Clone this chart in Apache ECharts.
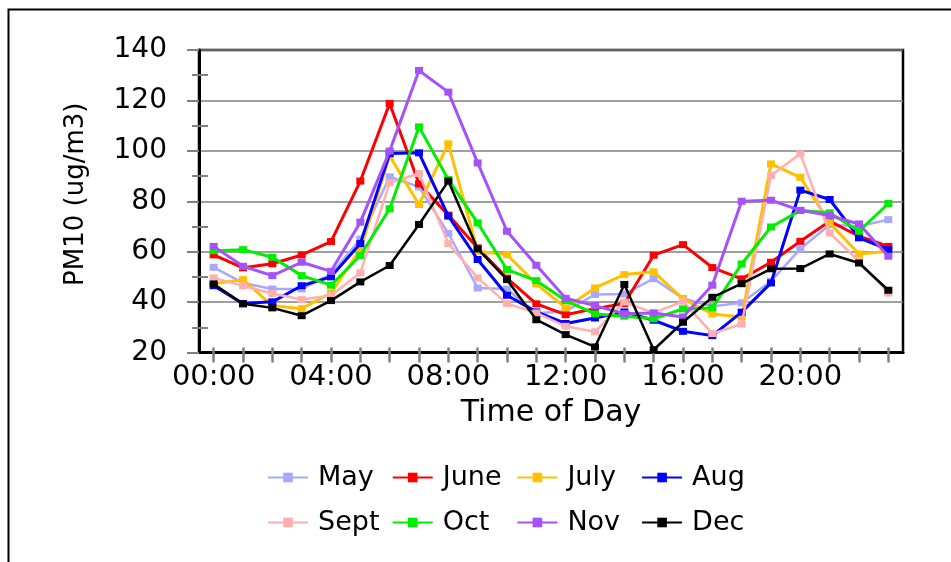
<!DOCTYPE html>
<html>
<head>
<meta charset="utf-8">
<script src="https://cdn.jsdelivr.net/npm/echarts@6/dist/echarts.min.js"></script>
<style>html,body{margin:0;padding:0;background:#fff}#c{width:951px;height:562px}</style>
</head>
<body>
<div id="c"></div>
<script>
var hours = ["00:00","01:00","02:00","03:00","04:00","05:00","06:00","07:00","08:00","09:00","10:00","11:00",
             "12:00","13:00","14:00","15:00","16:00","17:00","18:00","19:00","20:00","21:00","22:00","23:00"];
var yTicks = [20, 40, 60, 80, 100, 120, 140];
var months = ["May","June","July","Aug","Sept","Oct","Nov","Dec"];
var may  = [53.8,47.6,45.2,45.2,51,65,89.7,85.7,67.2,45.6,45.2,35.6,36.4,43,43.2,49.3,41.4,38.3,39.7,48.3,61.1,70.7,70.1,72.7];
var june = [58.7,53.6,55.2,58.7,64,88,118.8,86.9,74.5,61.5,49.5,39.3,35.0,37.4,39.4,58.6,62.8,53.7,49.2,55.8,64.1,72.1,66.1,62.1];
var july = [47.3,48.9,38.6,37.4,43.6,60.8,97.9,78.7,102.8,60.2,58.8,47.2,37.7,45.6,50.9,52,41.3,35.3,34.1,94.8,89.5,71.4,59.1,60.2];
var aug  = [46.5,39.4,40.1,46.5,50,63.2,98.9,99.2,74.1,56.9,42.7,36.1,31.5,33.7,36.1,32.8,28.4,26.7,36,47.6,84.4,80.7,65.5,60.8];
var sept = [49.6,46.5,43.4,41,42.6,51.6,87.3,91,63.2,49.6,39.4,35.7,30.4,28.2,40,35.7,40.3,27.5,31.3,90.2,98.8,67.4,56.2,43.6];
var oct  = [60.4,60.8,57.8,50.5,46.7,58.5,77,109.5,88.6,71.4,52.9,48.5,40.6,35.3,34.4,33.4,37.3,37.7,55.1,69.8,76.3,75.4,68.1,79.1];
var nov  = [62.1,54.2,50.5,55.8,52.2,71.7,99.9,131.9,123.3,95.2,68.1,54.6,41.5,38.6,35.4,35.7,34.1,46.7,80,80.4,76.4,74.3,71,58.2];
var dec  = [47.2,39.3,37.7,34.6,40.6,48,54.5,70.8,88,61.1,48.9,33.0,27.1,22.2,47,21.1,32,41.9,47.3,53.2,53.3,59.1,55.5,44.7];
var colors = ["#A8A8FF","#FF0000","#FFC000","#0000FF","#FFAFAF","#00EE00","#A452FA","#000000"];

var values = [may, june, july, aug, sept, oct, nov, dec];
var FONT = "DejaVu Sans";

var series = months.map(function (m, i) {
  return {
    name: m, type: 'line', data: values[i], xAxisIndex: 0, yAxisIndex: 0,
    symbol: 'rect', symbolSize: [8, 7], showSymbol: true,
    lineStyle: { color: colors[i], width: (i === 0 || i === 4 || i === 7) ? 2.5 : 3 },
    itemStyle: { color: colors[i] },
    z: 3 + i
  };
});

var legends = months.map(function (m, i) {
  var col = i % 4, row = Math.floor(i / 4);
  return {
    data: [m], left: 267 + col * 124.7, top: 464 + row * 45, padding: 0,
    itemWidth: 40, itemHeight: 12,
    textStyle: { fontFamily: FONT, fontSize: 27, color: '#000', padding: [0, 0, 0, 5] }
  };
});

var chart = echarts.init(document.getElementById('c'), null, { renderer: 'canvas' });
chart.setOption({
  animation: false,
  backgroundColor: '#fff',
  grid: { left: 199, right: 48, top: 50, bottom: 209.5, show: true, borderColor: '#000', borderWidth: 2.5, containLabel: false },
  graphic: [{ type: 'rect', left: 6, top: 7, shape: { width: 1000, height: 600 }, style: { fill: 'none', stroke: '#000', lineWidth: 2 }, silent: true }],
  legend: legends,
  xAxis: [
    {
      type: 'category', data: hours, boundaryGap: true, position: 'bottom',
      name: 'Time of Day', nameLocation: 'middle', nameGap: 46,
      nameTextStyle: { fontFamily: FONT, fontSize: 30, color: '#000' },
      axisLine: { show: true, lineStyle: { color: '#000', width: 3 } },
      axisTick: { show: true, alignWithLabel: true, interval: 0, length: 10, lineStyle: { color: '#808080', width: 2.5 } },
      axisLabel: { interval: 3, fontFamily: FONT, fontSize: 29, color: '#000', margin: 10 },
      splitLine: { show: false }
    },
    {
      type: 'category', data: hours, boundaryGap: true, position: 'bottom',
      axisLine: { show: false },
      axisTick: { show: true, inside: true, alignWithLabel: true, interval: 0, length: 5, lineStyle: { color: '#808080', width: 2.5 } },
      axisLabel: { show: false },
      splitLine: { show: false }
    }
  ],
  yAxis: [
    {
      type: 'value', min: yTicks[0], max: yTicks[yTicks.length - 1], interval: 20,
      name: 'PM10 (ug/m3)', nameLocation: 'middle', nameGap: 110,
      nameTextStyle: { fontFamily: FONT, fontSize: 26, color: '#000', padding: [0, 0, 0, 14] },
      axisLine: { show: true, lineStyle: { color: '#000', width: 3 } },
      axisTick: { show: true, length: 12, lineStyle: { color: '#808080', width: 2 } },
      minorTick: { show: true, splitNumber: 2, length: 7, lineStyle: { color: '#808080', width: 2 } },
      axisLabel: { fontFamily: FONT, fontSize: 28, color: '#000', margin: 32 },
      splitLine: { show: true, lineStyle: { color: '#808080', width: 1.5 } }
    },
    {
      type: 'value', min: yTicks[0], max: yTicks[yTicks.length - 1], interval: 20, position: 'left',
      axisLine: { show: false },
      axisTick: { show: false, inside: true },
      minorTick: { show: true, splitNumber: 2, length: 9, lineStyle: { color: '#808080', width: 2 } },
      axisLabel: { show: false },
      splitLine: { show: false }
    }
  ],
  series: series
});
</script>
</body>
</html>
